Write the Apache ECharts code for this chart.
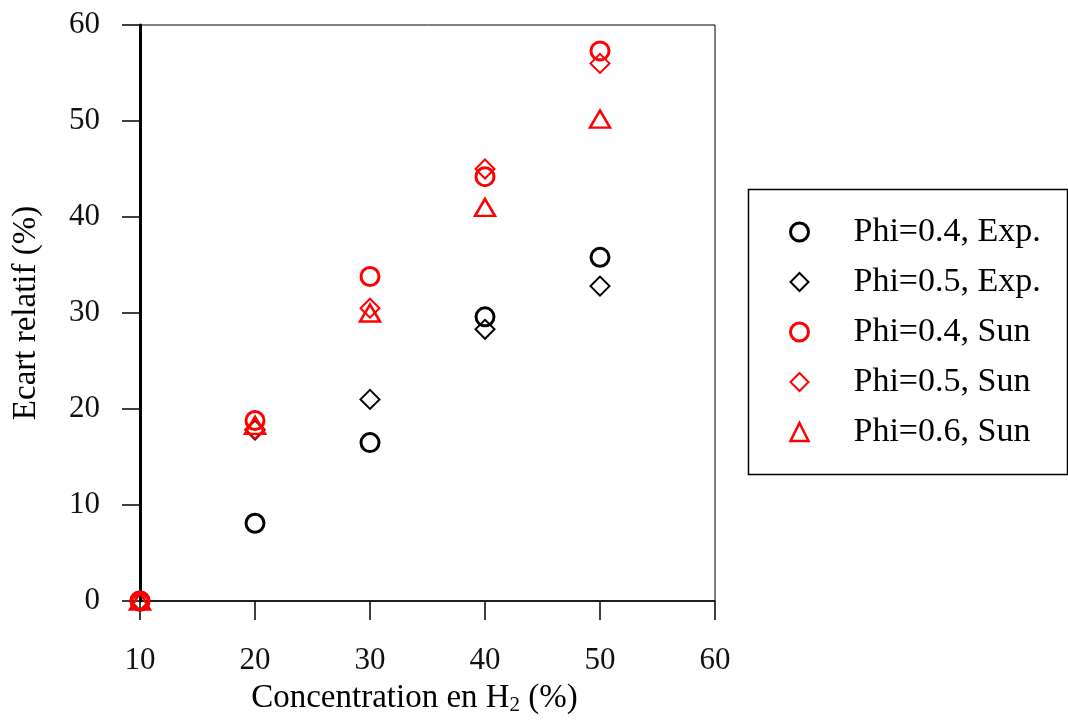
<!DOCTYPE html>
<html>
<head>
<meta charset="utf-8">
<script src="https://cdn.jsdelivr.net/npm/echarts@6/dist/echarts.min.js"></script>
<style>html,body{margin:0;padding:0;background:#fff}#c{width:1068px;height:722px}</style>
</head>
<body>
<div id="c"></div>
<script>
const concentrations = [10, 20, 30, 40, 50];
const phi04Exp = [0, 8.1, 16.5, 29.6, 35.8];
const phi05Exp = [0, 17.8, 21.0, 28.3, 32.8];
const phi04Sun = [0, 18.8, 33.8, 44.2, 57.3];
const phi05Sun = [0, 17.9, 30.5, 45.0, 56.0];
const phi06Sun = [0, 18.3, 30.0, 41.0, 50.2];
const seriesNames = ['Phi=0.4, Exp.', 'Phi=0.5, Exp.', 'Phi=0.4, Sun', 'Phi=0.5, Sun', 'Phi=0.6, Sun'];

const FONT = 'Liberation Serif';
const styles = [
  { symbol: 'circle', size: 18, color: '#000', bw: 3 },
  { symbol: 'diamond', size: 19, color: '#000', bw: 2 },
  { symbol: 'circle', size: 18, color: '#f00', bw: 3 },
  { symbol: 'diamond', size: 19, color: '#f00', bw: 2 },
  { symbol: 'triangle', size: [20, 17], color: '#f00', bw: 2.5 }
];
const allValues = [phi04Exp, phi05Exp, phi04Sun, phi05Sun, phi06Sun];
function pts(vals) { return concentrations.map((x, i) => [x, vals[i]]); }

const chart = echarts.init(document.getElementById('c'), null, { renderer: 'canvas' });
chart.setOption({
  animation: false,
  backgroundColor: '#fff',
  textStyle: { fontFamily: FONT },
  grid: { left: 140, right: 353, top: 25, bottom: 121, show: true, borderColor: '#000', borderWidth: 1, backgroundColor: 'transparent' },
  xAxis: {
    type: 'value', min: 10, max: 60, interval: 10,
    name: 'Concentration en H{s|2} (%)', nameLocation: 'middle', nameGap: 79,
    nameTextStyle: { fontFamily: FONT, fontSize: 33, color: '#000', padding: [0, 26, 0, 0], rich: { s: { fontFamily: FONT, fontSize: 21, color: '#000', padding: [15, 0, 0, 0] } } },
    axisLine: { lineStyle: { color: '#000', width: 1.5 } },
    axisTick: { inside: false, length: 19, lineStyle: { color: '#000', width: 1.5 } },
    axisLabel: { margin: 44, fontFamily: FONT, fontSize: 31, color: '#111' },
    splitLine: { show: false }
  },
  yAxis: {
    type: 'value', min: 0, max: 60, interval: 10,
    name: 'Ecart relatif (%)', nameLocation: 'middle', nameGap: 97,
    nameTextStyle: { fontFamily: FONT, fontSize: 33, color: '#000' },
    axisLine: { lineStyle: { color: '#000', width: 3 } },
    axisTick: { inside: false, length: 18, lineStyle: { color: '#000', width: 1.5 } },
    axisLabel: { margin: 40, fontFamily: FONT, fontSize: 31, color: '#111' },
    splitLine: { show: false }
  },
  legend: {
    orient: 'vertical', left: 789, top: 215, padding: 0,
    itemWidth: 18, itemHeight: 18, itemGap: 16,
    data: seriesNames.map((n, i) => ({
      name: n,
      itemStyle: { color: 'rgba(0,0,0,0)', borderColor: styles[i].color, borderWidth: styles[i].bw }
    })),
    textStyle: { fontFamily: FONT, fontSize: 34, color: '#000', padding: [0, 0, 0, 40] },
    selectedMode: false
  },
  graphic: [{
    type: 'rect', left: 746, top: 187, shape: { width: 319, height: 285 },
    style: { fill: 'none', stroke: '#000', lineWidth: 1.5 }, silent: true
  }],
  series: seriesNames.map((n, i) => ({
    type: 'scatter', name: n, data: pts(allValues[i]),
    symbol: styles[i].symbol, symbolSize: styles[i].size, clip: false,
    itemStyle: { color: 'rgba(0,0,0,0)', borderColor: styles[i].color, borderWidth: styles[i].bw, opacity: 1 },
    emphasis: { disabled: true }
  }))
});
</script>
</body>
</html>
